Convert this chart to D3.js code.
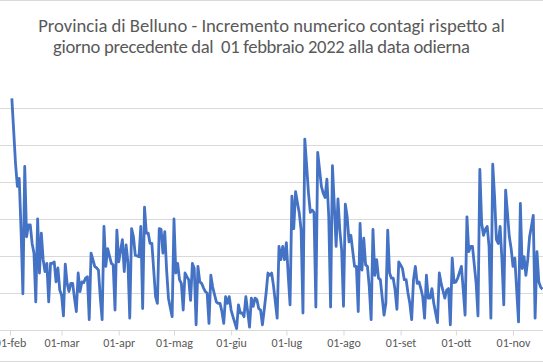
<!DOCTYPE html>
<html lang="it">
<head>
<meta charset="utf-8">
<style>
  body { margin: 0; background: #fff; overflow: hidden; }
  svg { display: block; font-family: Carlito, Calibri, Lato, sans-serif; }
</style>
</head>
<body>
<script src="https://d3js.org/d3.v7.min.js"></script>
<script>
const titleLines = [
  "Provincia di Belluno - Incremento numerico contagi rispetto al",
  "giorno precedente dal  01 febbraio 2022 alla data odierna"
];

// first value is the increment of 2 Feb 2022, one value per day
const startDate = "2022-02-02";
const increments = [
  313, 269, 225, 194, 205, 135, 49, 221, 126, 142,
  142, 117, 104, 38, 150, 77, 131, 95, 79, 90,
  38, 90, 90, 92, 65, 84, 54, 47, 19, 89,
  63, 52, 63, 63, 43, 25, 77, 52, 65, 64,
  70, 72, 14, 104, 95, 86, 84, 81, 44, 14,
  140, 86, 110, 100, 90, 88, 27, 135, 92, 107,
  122, 79, 115, 92, 16, 137, 126, 101, 100, 99,
  140, 29, 166, 131, 131, 117, 117, 81, 45, 36,
  137, 136, 104, 133, 81, 43, 30, 18, 150, 77,
  90, 68, 63, 27, 77, 72, 68, 40, 90, 83,
  7, 86, 65, 63, 57, 52, 50, 9, 74, 58,
  48, 38, 36, 36, 25, 9, 45, 36, 45, 27,
  18, 10, 2, 34, 23, 23, 18, 45, 25, 4,
  43, 32, 43, 41, 29, 27, 7, 28, 50, 77,
  74, 77, 60, 38, 16, 113, 95, 113, 95, 118,
  74, 34, 181, 137, 187, 172, 158, 135, 23, 258,
  222, 185, 159, 162, 159, 31, 240, 217, 194, 185,
  179, 204, 153, 31, 222, 169, 113, 177, 135, 108,
  32, 170, 153, 119, 128, 107, 86, 86, 25, 144,
  81, 124, 88, 86, 58, 14, 136, 74, 95, 70,
  68, 44, 20, 36, 135, 77, 70, 70, 54, 28,
  92, 88, 83, 68, 68, 50, 36, 14, 68, 86,
  63, 65, 56, 45, 16, 74, 43, 43, 56, 36,
  23, 10, 77, 63, 53, 43, 54, 56, 7, 97,
  64, 65, 70, 78, 86, 54, 20, 153, 106, 113,
  113, 88, 63, 19, 217, 144, 128, 136, 140, 113,
  16, 224, 180, 122, 117, 140, 95, 34, 189, 158,
  126, 110, 86, 97, 54, 11, 171, 83, 99, 74,
  95, 126, 140, 155, 16, 106, 65, 58, 55
];

const monthTicks = [
  "2022-02-01", "2022-03-01", "2022-04-01", "2022-05-01", "2022-06-01",
  "2022-07-01", "2022-08-01", "2022-09-01", "2022-10-01", "2022-11-01"
];
const monthNames = ["gen", "feb", "mar", "apr", "mag", "giu", "lug", "ago", "set", "ott", "nov", "dic"];
const gridValues = [0, 50, 100, 150, 200, 250, 300];

const width = 543, height = 362;
const parse = d3.timeParse("%Y-%m-%d");
const start = parse(startDate);
const data = increments.map((v, i) => ({ date: d3.timeDay.offset(start, i), value: v }));
const ticks = monthTicks.map(parse);

const svg = d3.select("body").append("svg")
  .attr("width", width)
  .attr("height", height);

// chart area border (only top and bottom are inside the crop)
svg.append("line")
  .attr("x1", 0).attr("x2", width).attr("y1", 0.5).attr("y2", 0.5)
  .attr("stroke", "#d9d9d9");
svg.append("line")
  .attr("x1", 0).attr("x2", width).attr("y1", height - 0.5).attr("y2", height - 0.5)
  .attr("stroke", "#d9d9d9");

const x = d3.scaleTime()
  .domain([ticks[0], ticks[ticks.length - 1]])
  .range([10, 513]);

const y = d3.scaleLinear()
  .domain([0, 300])
  .range([330, 108]);

svg.append("g")
  .selectAll("line")
  .data(gridValues)
  .join("line")
    .attr("x1", 0)
    .attr("x2", width)
    .attr("y1", d => Math.round(y(d)) + 0.5)
    .attr("y2", d => Math.round(y(d)) + 0.5)
    .attr("stroke", "#d9d9d9")
    .attr("stroke-width", 1);

const xAxis = svg.append("g")
  .attr("transform", `translate(0,${Math.round(y(0)) + 0.5})`)
  .call(d3.axisBottom(x)
    .tickValues(ticks)
    .tickSize(5)
    .tickSizeOuter(0)
    .tickFormat(d => d3.timeFormat("%d")(d) + "-" + monthNames[d.getMonth()]));

xAxis.select(".domain").remove();
xAxis.selectAll(".tick line").attr("stroke", "#d9d9d9");
xAxis.selectAll(".tick text")
  .attr("fill", "#595959")
  .attr("font-size", 12)
  .attr("font-family", "Carlito, Calibri, Lato, sans-serif");

const line = d3.line()
  .x(d => x(d.date))
  .y(d => y(d.value));

svg.append("path")
  .datum(data)
  .attr("fill", "none")
  .attr("stroke", "#4472C4")
  .attr("stroke-width", 2.8)
  .attr("stroke-linejoin", "round")
  .attr("d", line);

const title = svg.append("g")
  .attr("fill", "#595959")
  .attr("font-size", 17);

const t1 = title.append("text")
  .attr("x", 271.5).attr("y", 32)
  .attr("text-anchor", "middle")
  .text(titleLines[0]);
const t2 = title.append("text")
  .attr("x", 261.5).attr("y", 53)
  .attr("text-anchor", "middle")
  .style("white-space", "pre")
  .text(titleLines[1]);

// fit the title to the width it has in the reference
const len = t1.node().getComputedTextLength();
title.attr("font-size", 17 * 467 / len);
t2.attr("textLength", 417).attr("lengthAdjust", "spacing");
</script>
</body>
</html>
